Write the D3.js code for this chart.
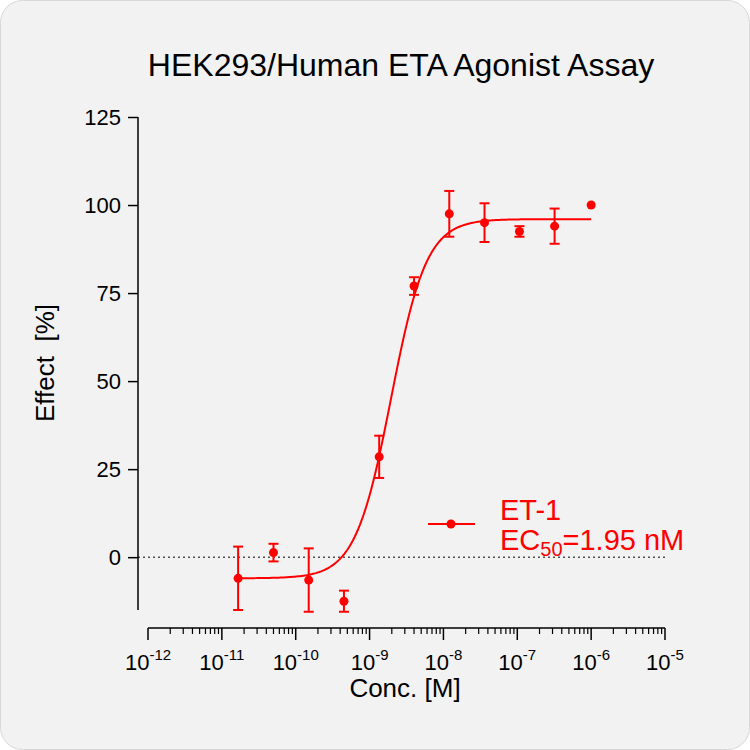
<!DOCTYPE html>
<html>
<head>
<script src="https://d3js.org/d3.v7.min.js"></script>
<style>
body {margin:0; background:#fff;}
text {font-family:Arial, "Liberation Sans", sans-serif;}
</style>
</head>
<body>
<div id="myDiv"></div>
<script>
// data
var conc = [1.66e-11, 5e-11, 1.5e-10, 4.5e-10, 1.35e-9, 4e-9, 1.2e-8, 3.6e-8, 1.07e-7, 3.2e-7, 1e-6];
var effect = [-6, 1.3, -6.5, -12.5, 28.5, 77, 97.5, 95, 92.5, 94, 100];
var errors = [9, 2.5, 9, 3, 6, 2.5, 6.5, 5.5, 1.5, 5, 0];
var yTicks = [0, 25, 50, 75, 100, 125];
var xExps = [-12, -11, -10, -9, -8, -7, -6, -5];
// fitted curve parameters
var bottom = -6, top_ = 96, ec50 = 1.95e-9, hill = 1.8;

var svg = d3.select("#myDiv").append("svg").attr("width", 750).attr("height", 750);
svg.append("rect").attr("x", 0.5).attr("y", 0.5).attr("width", 749).attr("height", 749)
	.attr("rx", 22).attr("fill", "#f2f2f2").attr("stroke", "#d8d8d8");

var x = d3.scaleLog().domain([1e-12, 1e-5]).range([148, 665]);
var y = d3.scaleLinear().domain([-15, 125]).range([610, 117]);
var red = "#ff0000";

// y axis
var yAxis = d3.axisLeft(y).tickValues(yTicks).tickSize(10).tickSizeOuter(0);
var gy = svg.append("g").attr("transform", "translate(138,0)").call(yAxis);
gy.select(".domain").attr("stroke-width", 1.5).attr("d", "M0," + y(-15) + "V" + y(125));
gy.selectAll("line").attr("stroke-width", 1.5);
gy.selectAll("text").attr("font-size", 22).attr("font-family", "Arial, 'Liberation Sans', sans-serif").attr("fill", "#000").attr("x", -17);

// x axis
var gx = svg.append("g").attr("transform", "translate(0,628)");
gx.append("line").attr("x1", x(1e-12)).attr("x2", x(1e-5)).attr("stroke", "#000").attr("stroke-width", 1.5);
xExps.forEach(function (e) {
	gx.append("line").attr("x1", x(Math.pow(10, e))).attr("x2", x(Math.pow(10, e)))
		.attr("y1", 0).attr("y2", 12).attr("stroke", "#000").attr("stroke-width", 1.5);
	var t = gx.append("text").attr("x", x(Math.pow(10, e))).attr("y", 42)
		.attr("text-anchor", "middle").attr("font-size", 22);
	t.append("tspan").text("10");
	t.append("tspan").attr("dy", -10).attr("font-size", 15).text(e);
	if (e < -5) {
		for (var k = 2; k < 10; k++) {
			var v = k * Math.pow(10, e);
			gx.append("line").attr("x1", x(v)).attr("x2", x(v)).attr("y1", 0).attr("y2", 6)
				.attr("stroke", "#000").attr("stroke-width", 1.2);
		}
	}
});

// zero line
svg.append("line").attr("x1", 138).attr("x2", 665).attr("y1", y(0)).attr("y2", y(0))
	.attr("stroke", "#000").attr("stroke-dasharray", "2,3");

// fitted curve
var curveX = d3.range(0, 201).map(function (i) {
	return Math.pow(10, Math.log10(conc[0]) + i / 200 * (Math.log10(1e-6) - Math.log10(conc[0])));
});
var line = d3.line()
	.x(function (c) { return x(c); })
	.y(function (c) { return y(bottom + (top_ - bottom) / (1 + Math.pow(ec50 / c, hill))); });
svg.append("path").datum(curveX).attr("d", line).attr("fill", "none").attr("stroke", red).attr("stroke-width", 2);

// error bars and points
conc.forEach(function (c, i) {
	if (errors[i] > 0) {
		var cx = x(c), y1 = y(effect[i] - errors[i]), y2 = y(effect[i] + errors[i]);
		svg.append("line").attr("x1", cx).attr("x2", cx).attr("y1", y1).attr("y2", y2).attr("stroke", red).attr("stroke-width", 2);
		svg.append("line").attr("x1", cx - 5).attr("x2", cx + 5).attr("y1", y1).attr("y2", y1).attr("stroke", red).attr("stroke-width", 2);
		svg.append("line").attr("x1", cx - 5).attr("x2", cx + 5).attr("y1", y2).attr("y2", y2).attr("stroke", red).attr("stroke-width", 2);
	}
	svg.append("circle").attr("cx", x(c)).attr("cy", y(effect[i])).attr("r", 4.5).attr("fill", red);
});

// legend
svg.append("line").attr("x1", 428).attr("x2", 475).attr("y1", 524).attr("y2", 524).attr("stroke", red).attr("stroke-width", 2);
svg.append("circle").attr("cx", 451).attr("cy", 524).attr("r", 4.5).attr("fill", red);
svg.append("text").attr("x", 500).attr("y", 520).attr("font-size", 29).attr("fill", red).text("ET-1");
var lt = svg.append("text").attr("x", 500).attr("y", 550).attr("font-size", 29).attr("fill", red);
lt.append("tspan").text("EC");
lt.append("tspan").attr("dy", 6).attr("font-size", 20).text("50");
lt.append("tspan").attr("dy", -6).text("=1.95 nM");

// titles
svg.append("text").attr("x", 401).attr("y", 76).attr("text-anchor", "middle").attr("font-size", 32).text("HEK293/Human ETA Agonist Assay");
svg.append("text").attr("transform", "translate(54,363) rotate(-90)").attr("text-anchor", "middle").attr("font-size", 26).attr("xml:space", "preserve").text("Effect  [%]");
svg.append("text").attr("x", 405).attr("y", 697).attr("text-anchor", "middle").attr("font-size", 26).text("Conc. [M]");
</script>
</body>
</html>
